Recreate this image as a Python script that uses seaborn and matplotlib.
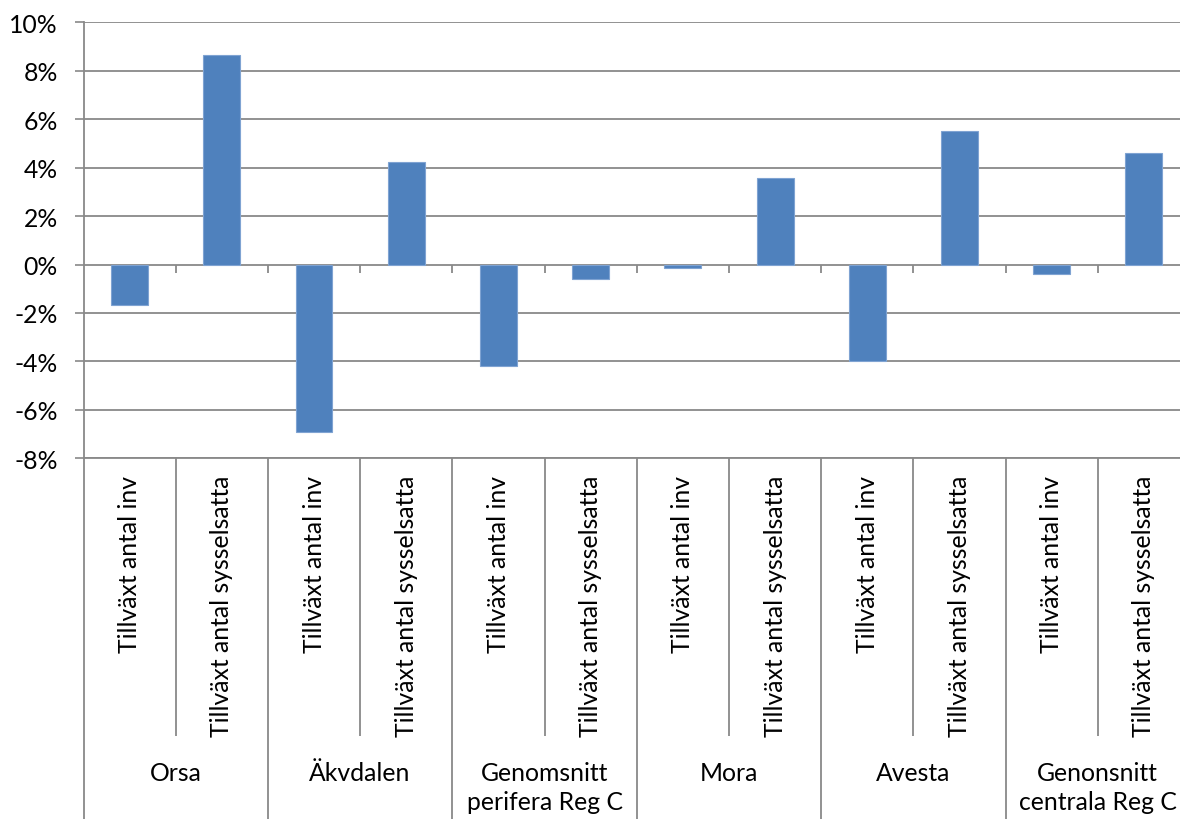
import numpy as np
import pandas as pd
import matplotlib
matplotlib.use("Agg")
import matplotlib.pyplot as plt
import matplotlib.transforms as mtransforms
from matplotlib.ticker import FuncFormatter
import seaborn as sns

# ---- data ----
groups = ["Orsa", "Äkvdalen", "Genomsnitt\nperifera Reg C", "Mora", "Avesta",
          "Genonsnitt\ncentrala Reg C"]
measures = ["Tillväxt antal inv", "Tillväxt antal sysselsatta"]
inv_growth = [-0.0169, -0.0692, -0.0420, -0.0014, -0.0399, -0.0039]
emp_growth = [0.0866, 0.0425, -0.0059, 0.0359, 0.0550, 0.0461]
y_ticks = [-0.08, -0.06, -0.04, -0.02, 0.0, 0.02, 0.04, 0.06, 0.08, 0.10]

rows = []
for g, a, b in zip(groups, inv_growth, emp_growth):
    rows.append((g, measures[0], a))
    rows.append((g, measures[1], b))
df = pd.DataFrame(rows, columns=["group", "measure", "value"])
df["slot"] = df["group"] + " | " + df["measure"]
order = list(df["slot"])

# ---- style ----
BLUE = "#4F81BD"
GRAY = "#898989"
sns.set_theme(style="white")
plt.rcParams["font.family"] = ["Lato", "DejaVu Sans"]
FS = 17.8

W, H = 1180, 820
fig = plt.figure(figsize=(W / 100, H / 100), dpi=100)
left_px, right_px, top_px, bot_px = 83.5, 1190.0, 23.3, 459.3
ax = fig.add_axes([left_px / W, 1 - bot_px / H, (right_px - left_px) / W,
                   (bot_px - top_px) / H])

sns.barplot(data=df, x="slot", y="value", order=order, color=BLUE,
            saturation=1, width=0.4, ax=ax, errorbar=None, zorder=3,
            edgecolor="#7FA3D2", linewidth=0.8)

ax.set_xlim(-0.5, len(order) - 0.5)
ax.set_ylim(y_ticks[0], y_ticks[-1])
ax.set_yticks(y_ticks)
ax.yaxis.set_major_formatter(FuncFormatter(lambda v, p: f"{v * 100:.0f}%"))
ax.set_xticks(range(len(order)))
ax.set_xticklabels([])
ax.set_xlabel("")
ax.set_ylabel("")
ax.tick_params(axis="x", length=0)
ax.tick_params(axis="y", length=6.5, width=1.2, color=GRAY, direction="out",
               pad=12, labelsize=FS, labelcolor="black", left=True)
ax.yaxis.grid(True, color=GRAY, linewidth=1.3, zorder=0)
ax.set_axisbelow(True)
for s in ["top", "right"]:
    ax.spines[s].set_visible(False)
for s in ["left", "bottom"]:
    ax.spines[s].set_color(GRAY)
    ax.spines[s].set_linewidth(1.3)

# tick marks on the zero line
n = len(order)
for k in range(1, n):
    ax.plot([k - 0.5, k - 0.5], [0, -0.0034], color=GRAY, lw=1.3,
            zorder=2, solid_capstyle="butt")

# category axis decoration below the plot
trans = mtransforms.blended_transform_factory(ax.transData, ax.transAxes)
ph = bot_px - top_px
y_minor = (bot_px - 737) / ph
y_major = -1.2
for k in range(0, n + 1):
    ymin = y_major if k % 2 == 0 else y_minor
    ax.plot([k - 0.5, k - 0.5], [0, ymin], color=GRAY, lw=1.3,
            transform=trans, clip_on=False, solid_capstyle="butt")

y_meas = (bot_px - 476) / ph
for i, slot in enumerate(order):
    ax.text(i, y_meas, df["measure"].iloc[i], rotation=90, ha="center",
            va="top", fontsize=FS, transform=trans, color="black")

y_grp = (bot_px - 762) / ph
for j, g in enumerate(groups):
    ax.text(2 * j + 0.5, y_grp, g, ha="center", va="top", fontsize=FS,
            transform=trans, color="black", linespacing=1.3,
            multialignment="center")

fig.savefig("out.png", dpi=100)
